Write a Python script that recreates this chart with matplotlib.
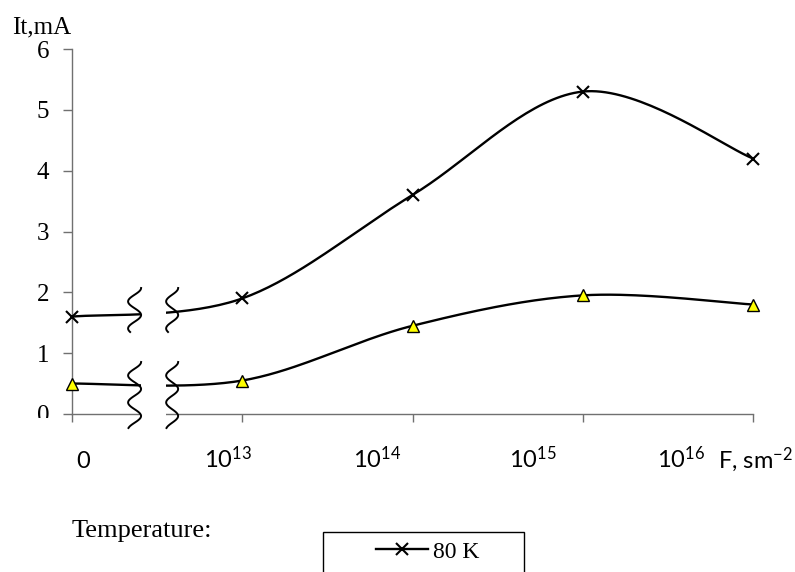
import numpy as np
import matplotlib
matplotlib.use("Agg")
import matplotlib.pyplot as plt
from matplotlib.patches import Rectangle
from matplotlib.lines import Line2D

# --- data (x positions are equal steps: 0, 1e13, 1e14, 1e15, 1e16) ---
x_pos = [0, 1, 2, 3, 4]
x_labels = ["0", r"$\mathregular{10^{13}}$", r"$\mathregular{10^{14}}$",
            r"$\mathregular{10^{15}}$", r"$\mathregular{10^{16}}$"]
it_80k = [1.6, 1.9, 3.6, 5.3, 4.2]
it_second = [0.5, 0.55, 1.45, 1.95, 1.8]
y_ticks = [0, 1, 2, 3, 4, 5, 6]

W, H = 795, 572
SERIF = "Liberation Serif"
SANS = "Lato"


def smooth(xs, ys, n=40):
    # excel-like smoothed line (cardinal bezier)
    P = np.column_stack([xs, ys]).astype(float)
    P = np.vstack([P[0], P, P[-1]])
    out = []
    t = np.linspace(0, 1, n)[:, None]
    for i in range(1, len(P) - 2):
        p0, p3 = P[i], P[i + 1]
        c1 = p0 + (P[i + 1] - P[i - 1]) / 6
        c2 = p3 - (P[i + 2] - P[i]) / 6
        seg = ((1 - t) ** 3) * p0 + 3 * ((1 - t) ** 2) * t * c1 + 3 * (1 - t) * t ** 2 * c2 + t ** 3 * p3
        out.append(seg)
    out = np.vstack(out)
    return out[:, 0], out[:, 1]


def px2x(px):
    return (px - 72) / 170.0


def px2y(py):
    return (414 - py) / 60.83


fig = plt.figure(figsize=(W / 100, H / 100), dpi=100)
ax = fig.add_axes([72 / W, 1 - 414 / H, 681 / W, 365 / H])
ax.set_xlim(0, 4)
ax.set_ylim(0, 6)

for s in ["top", "right"]:
    ax.spines[s].set_visible(False)
for s in ["left", "bottom"]:
    ax.spines[s].set_color("#707070")
    ax.spines[s].set_linewidth(1)

sx, sy = smooth(x_pos, it_80k)
ax.plot(sx, sy, color="black", lw=1.7, clip_on=False, zorder=2)
ax.plot(x_pos, it_80k, ls="none", marker="x", ms=8, mew=1.5, color="black",
        clip_on=False, zorder=6)
sx2, sy2 = smooth(x_pos, it_second)
ax.plot(sx2, sy2, color="black", lw=1.7, clip_on=False, zorder=2)
ax.plot(x_pos, it_second, ls="none", marker="^", ms=9, mew=1, mfc="#ffff00",
        mec="black", clip_on=False, zorder=6)

ax.set_xticks(x_pos)
ax.set_xticklabels([])
ax.set_yticks(y_ticks)
ax.set_yticklabels([str(v) for v in y_ticks], fontfamily=SERIF, fontsize=18)
ax.tick_params(axis="x", direction="out", length=5.5, width=1, color="#707070")
ax.tick_params(axis="y", direction="out", length=6.5, width=1, color="#707070", pad=10)

# axis break: white gap plus wavy marks
ax.add_patch(Rectangle((px2x(141), px2y(430)), px2x(166) - px2x(141), 6.5,
                       facecolor="white", edgecolor="none", zorder=3, clip_on=False))
for top, bot in [(288, 332), (362, 428)]:
    yy = np.linspace(top, bot, 60)
    for cx, amp in [(134.5, 6.5), (172, 6)]:
        xx = cx + amp * np.cos(2 * np.pi * (yy - top) / 27.0)
        ax.plot(px2x(xx), px2y(yy), color="black", lw=1.4, clip_on=False, zorder=4)

# x labels placed like the original text boxes
lab_left = [76, 204, 353, 508, 656]
for lbl, lx in zip(x_labels, lab_left):
    ax.text(px2x(lx), px2y(468), lbl, ha="left", va="baseline",
            fontfamily=SANS, fontsize=17, clip_on=False)
ax.text(px2x(717), px2y(468), r"F, sm$\mathregular{^{-2}}$", ha="left",
        va="baseline", fontfamily=SANS, fontsize=17, clip_on=False)

# cover lower half of the y "0" label like in the picture
fig.add_artist(Rectangle((20 / W, 1 - 440 / H), 42 / W, 22 / H, transform=fig.transFigure,
                         facecolor="white", edgecolor="none", zorder=10))

fig.text(12 / W, 1 - 33 / H, "It,mA", ha="left", va="baseline",
         fontfamily=SERIF, fontsize=18)
fig.text(212 / W, 1 - 537 / H, "Temperature:", ha="right", va="baseline",
         fontfamily=SERIF, fontsize=19)

# legend box running off the bottom edge
fig.add_artist(Rectangle((323 / W, 1 - 600 / H), 201 / W, 68 / H, transform=fig.transFigure,
                         facecolor="white", edgecolor="black", lw=1, zorder=5))
h80 = Line2D([], [], color="black", lw=1.7, marker="x", ms=8, mew=1.5)
leg = fig.legend([h80], ["80 K"], loc="upper left",
                 bbox_to_anchor=(376 / W, 1 - 541 / H), frameon=False,
                 borderpad=0, borderaxespad=0, handlelength=2.2, handletextpad=0.2,
                 numpoints=1, prop={"family": SERIF, "size": 17})
leg.set_zorder(11)

fig.savefig("out.png", dpi=100)
